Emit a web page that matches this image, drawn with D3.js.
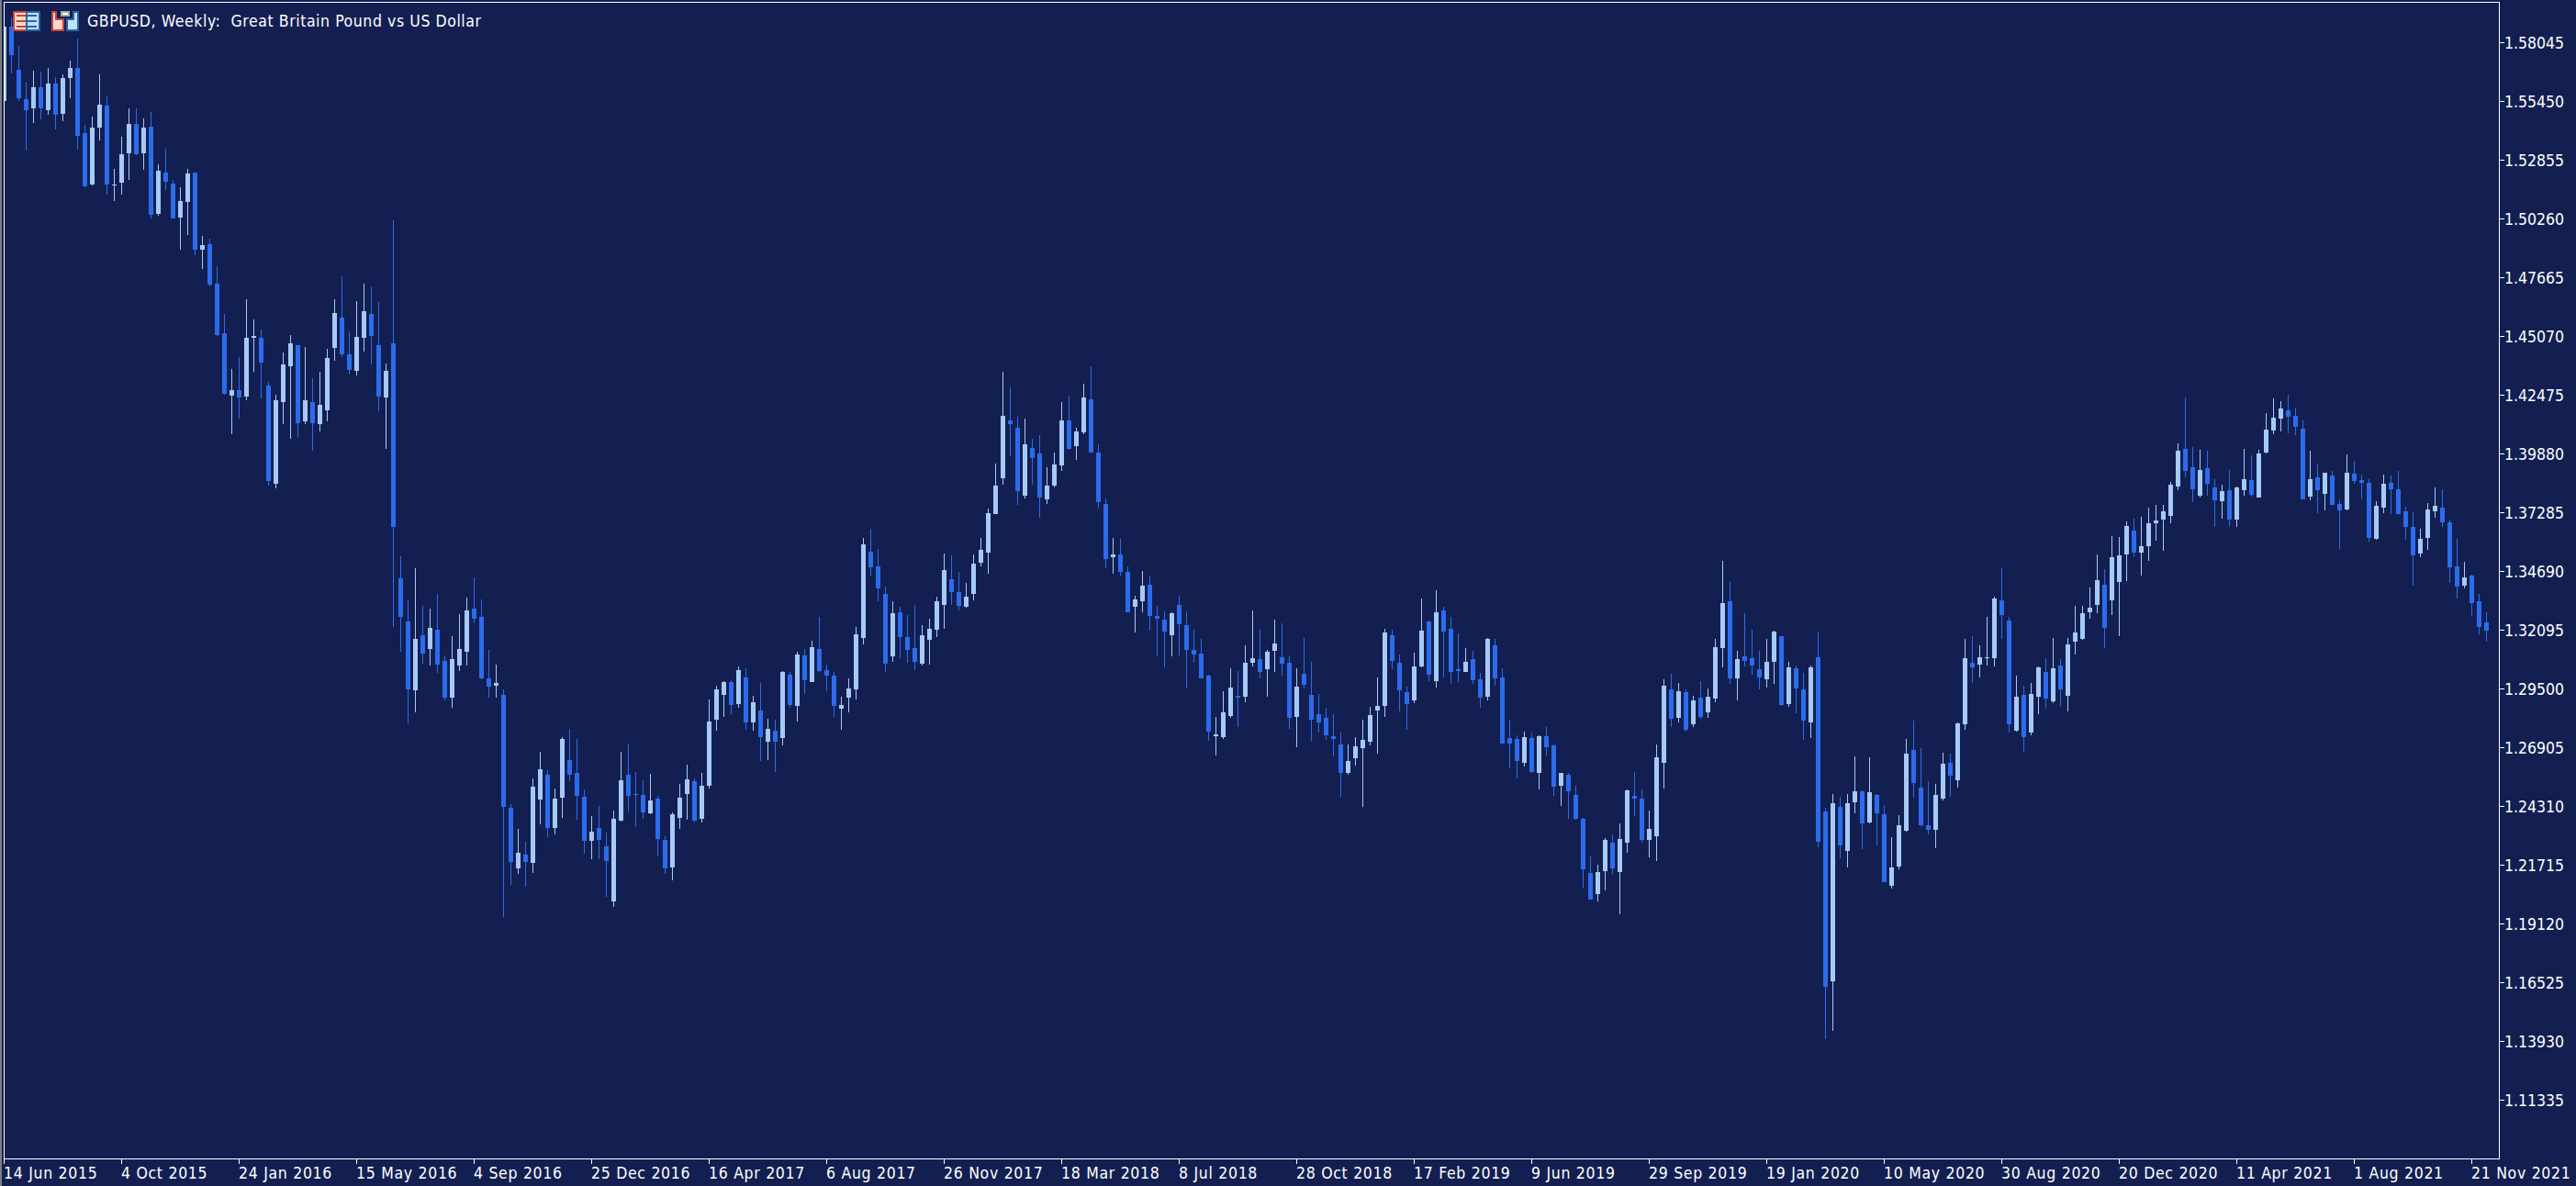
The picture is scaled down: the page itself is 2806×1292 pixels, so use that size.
<!DOCTYPE html>
<html>
<head>
<meta charset="utf-8">
<script src="https://cdnjs.cloudflare.com/ajax/libs/d3/7.8.5/d3.min.js"></script>
<style>
  html, body { margin: 0; padding: 0; background: #131f51; overflow: hidden; }
  svg { display: block; }
  text { font-family: 'DejaVu Sans Condensed', 'DejaVu Sans'; font-stretch: condensed; fill: #fff; }
</style>
</head>
<body>
<svg id="chart"></svg>
<script>
const title = 'GBPUSD, Weekly:  Great Britain Pound vs US Dollar';

const dateLabels = ['14 Jun 2015', '4 Oct 2015', '24 Jan 2016', '15 May 2016', '4 Sep 2016', '25 Dec 2016',
  '16 Apr 2017', '6 Aug 2017', '26 Nov 2017', '18 Mar 2018', '8 Jul 2018', '28 Oct 2018', '17 Feb 2019',
  '9 Jun 2019', '29 Sep 2019', '19 Jan 2020', '10 May 2020', '30 Aug 2020', '20 Dec 2020', '11 Apr 2021',
  '1 Aug 2021', '21 Nov 2021'];
const weeksPerLabel = 16;

const priceTicks = [1.11335, 1.13930, 1.16525, 1.19120, 1.21715, 1.24310, 1.26905, 1.29500, 1.32095, 1.34690,
  1.37285, 1.39880, 1.42475, 1.45070, 1.47665, 1.50260, 1.52855, 1.55450, 1.58045];

const highs = [
  1.5910,1.5914,1.5792,1.5630,1.5679,1.5675,1.5695,1.5654,1.5663,1.5727,
  1.5821,1.5440,1.5480,1.5663,1.5569,1.5245,1.5387,1.5513,1.5513,1.5472,
  1.5500,1.5269,1.5338,1.5200,1.5164,1.5245,1.5229,1.4949,1.4937,1.4819,
  1.4608,1.4365,1.4414,1.4673,1.4580,1.4539,1.4308,1.4251,1.4438,1.4515,
  1.4470,1.4462,1.4324,1.4349,1.4454,1.4673,1.4774,1.4531,1.4665,1.4742,
  1.4730,1.4661,1.4389,1.5018,1.3534,1.3343,1.3485,1.3315,1.3303,1.3371,
  1.3096,1.3185,1.3282,1.3355,1.3444,1.3347,1.3124,1.3059,1.2946,1.2443,
  1.2333,1.2273,1.2556,1.2674,1.2593,1.2512,1.2739,1.2775,1.2731,1.2504,
  1.2390,1.2435,1.2317,1.2414,1.2674,1.2706,1.2585,1.2548,1.2573,1.2479,
  1.2301,1.2406,1.2532,1.2617,1.2556,1.2577,1.2905,1.2966,1.2986,1.2990,
  1.3051,1.3043,1.2921,1.2978,1.2820,1.2816,1.3031,1.3027,1.3116,1.3128,
  1.3161,1.3270,1.3059,1.3023,1.2917,1.2998,1.3225,1.3619,1.3659,1.3570,
  1.3404,1.3339,1.3311,1.3278,1.3323,1.3230,1.3262,1.3359,1.3550,1.3538,
  1.3465,1.3420,1.3546,1.3615,1.3745,1.3947,1.4349,1.4280,1.4154,1.4146,
  1.4053,1.4073,1.3931,1.3996,1.4219,1.4247,1.4105,1.4300,1.4377,1.4032,
  1.3793,1.3619,1.3611,1.3493,1.3363,1.3473,1.3449,1.3315,1.3294,1.3290,
  1.3363,1.3294,1.3213,1.3173,1.3011,1.2828,1.2938,1.3043,1.3031,1.3144,
  1.3298,1.3217,1.3124,1.3258,1.3238,1.3092,1.3043,1.3177,1.3071,1.2929,
  1.2865,1.2840,1.2759,1.2706,1.2739,1.2816,1.2869,1.3002,1.3217,1.3213,
  1.3104,1.2962,1.3112,1.3351,1.3254,1.3384,1.3311,1.3270,1.3197,1.3132,
  1.3120,1.3019,1.3177,1.3173,1.3043,1.2816,1.2747,1.2763,1.2759,1.2747,
  1.2783,1.2706,1.2581,1.2581,1.2524,1.2382,1.2212,1.2175,1.2293,1.2309,
  1.2354,1.2508,1.2585,1.2504,1.2414,1.2706,1.2994,1.3015,1.2978,1.2946,
  1.2921,1.2986,1.2954,1.3169,1.3517,1.3424,1.3120,1.3286,1.3213,1.3120,
  1.3173,1.3209,1.3185,1.3071,1.3055,1.3019,1.3055,1.3201,1.2423,1.2487,
  1.2475,1.2487,1.2650,1.2500,1.2646,1.2487,1.2439,1.2297,1.2394,1.2731,
  1.2812,1.2690,1.2544,1.2532,1.2670,1.2666,1.2804,1.3173,1.3185,1.3144,
  1.3270,1.3359,1.3485,1.3270,1.3007,1.2966,1.2978,1.3051,1.3084,1.3177,
  1.3080,1.3177,1.3315,1.3315,1.3400,1.3542,1.3481,1.3627,1.3623,1.3688,
  1.3704,1.3712,1.3749,1.3761,1.3761,1.3866,1.4036,1.4239,1.4020,1.4008,
  1.4004,1.3878,1.3854,1.3919,1.3846,1.4012,1.3980,1.4008,1.4170,1.4235,
  1.4223,1.4251,1.4191,1.4134,1.4004,1.3943,1.3903,1.3911,1.3789,1.3984,
  1.3959,1.3895,1.3878,1.3781,1.3895,1.3891,1.3915,1.3753,1.3732,1.3659,
  1.3773,1.3838,1.3830,1.3700,1.3611,1.3513,1.3453,1.3371,1.3290];

const lows = [
  1.5525,1.5667,1.5545,1.5330,1.5448,1.5464,1.5488,1.5423,1.5456,1.5561,
  1.5334,1.5164,1.5172,1.5371,1.5135,1.5107,1.5135,1.5200,1.5306,1.5241,
  1.5026,1.5042,1.5152,1.5030,1.4892,1.4957,1.4864,1.4803,1.4730,1.4507,
  1.4251,1.4077,1.4146,1.4227,1.4349,1.4235,1.3850,1.3834,1.4118,1.4053,
  1.4057,1.4118,1.4004,1.4089,1.4130,1.4401,1.4414,1.4337,1.4333,1.4442,
  1.4385,1.4178,1.4012,1.3225,1.3116,1.2796,1.2848,1.3063,1.3055,1.3019,
  1.2901,1.2865,1.3031,1.3055,1.3238,1.2994,1.2913,1.2913,1.1944,1.2086,
  1.2131,1.2078,1.2139,1.2350,1.2297,1.2309,1.2382,1.2544,1.2374,1.2224,
  1.2196,1.2196,1.2033,1.1985,1.2366,1.2410,1.2341,1.2378,1.2398,1.2212,
  1.2131,1.2106,1.2333,1.2374,1.2362,1.2362,1.2512,1.2767,1.2828,1.2840,
  1.2865,1.2771,1.2767,1.2633,1.2637,1.2585,1.2702,1.2865,1.2808,1.2929,
  1.2982,1.3023,1.2938,1.2828,1.2771,1.2848,1.2905,1.3148,1.3449,1.3339,
  1.3023,1.3071,1.3084,1.3067,1.3035,1.3055,1.3059,1.3181,1.3217,1.3319,
  1.3298,1.3307,1.3343,1.3493,1.3457,1.3724,1.3854,1.3976,1.3761,1.3793,
  1.3854,1.3708,1.3765,1.3838,1.3911,1.4008,1.3963,1.4077,1.3996,1.3745,
  1.3485,1.3457,1.3449,1.3290,1.3201,1.3290,1.3209,1.3100,1.3047,1.3092,
  1.3100,1.2954,1.3067,1.3017,1.2719,1.2658,1.2727,1.2824,1.2783,1.2893,
  1.3051,1.2998,1.2917,1.3027,1.3007,1.2775,1.2694,1.2954,1.2719,1.2759,
  1.2723,1.2654,1.2475,1.2569,1.2613,1.2427,1.2702,1.2666,1.2828,1.3039,
  1.2852,1.2771,1.2889,1.3047,1.2986,1.2958,1.3002,1.2974,1.2982,1.3023,
  1.2974,1.2865,1.2901,1.2966,1.2710,1.2601,1.2556,1.2609,1.2577,1.2504,
  1.2658,1.2479,1.2435,1.2378,1.2374,1.2074,1.2021,1.2013,1.2062,1.2135,
  1.1956,1.2228,1.2390,1.2269,1.2204,1.2191,1.2512,1.2783,1.2804,1.2763,
  1.2783,1.2820,1.2824,1.2893,1.3047,1.2974,1.2901,1.3051,1.3011,1.2950,
  1.2958,1.2974,1.2877,1.2869,1.2844,1.2723,1.2735,1.2252,1.1405,1.1441,
  1.2200,1.2163,1.2402,1.2244,1.2358,1.2260,1.2098,1.2070,1.2155,1.2321,
  1.2471,1.2342,1.2309,1.2248,1.2459,1.2475,1.2516,1.2771,1.2978,1.3002,
  1.3055,1.3051,1.3173,1.2759,1.2763,1.2674,1.2747,1.2840,1.2861,1.2889,
  1.2877,1.2852,1.3104,1.3165,1.3262,1.3286,1.3132,1.3278,1.3185,1.3428,
  1.3530,1.3449,1.3517,1.3603,1.3562,1.3680,1.3826,1.3886,1.3777,1.3797,
  1.3805,1.3667,1.3704,1.3667,1.3667,1.3805,1.3801,1.3797,1.3988,1.4077,
  1.4089,1.4081,1.4073,1.3789,1.3785,1.3728,1.3740,1.3757,1.3570,1.3740,
  1.3858,1.3789,1.3599,1.3607,1.3728,1.3724,1.3724,1.3607,1.3408,1.3530,
  1.3566,1.3708,1.3667,1.3420,1.3351,1.3392,1.3274,1.3193,1.3157];

const opens = [
  1.5549,1.5877,1.5683,1.5557,1.5513,1.5606,1.5508,1.5626,1.5492,1.5650,
  1.5691,1.5407,1.5180,1.5431,1.5525,1.5176,1.5188,1.5314,1.5444,1.5314,
  1.5435,1.5050,1.5229,1.5184,1.5034,1.5103,1.5229,1.4892,1.4916,1.4742,
  1.4523,1.4247,1.4268,1.4243,1.4499,1.4499,1.4292,1.3858,1.4219,1.4377,
  1.4470,1.4130,1.4219,1.4118,1.4182,1.4458,1.4592,1.4426,1.4353,1.4499,
  1.4608,1.4470,1.4239,1.4478,1.3440,1.3250,1.2942,1.3189,1.3128,1.3213,
  1.3075,1.2913,1.3055,1.3116,1.3303,1.3270,1.2998,1.2966,1.2925,1.2423,
  1.2159,1.2220,1.2183,1.2463,1.2569,1.2337,1.2471,1.2637,1.2581,1.2475,
  1.2277,1.2337,1.2256,1.2013,1.2370,1.2569,1.2487,1.2483,1.2402,1.2467,
  1.2285,1.2163,1.2382,1.2487,1.2544,1.2378,1.2524,1.2816,1.2925,1.2982,
  1.2885,1.3002,1.2800,1.2856,1.2715,1.2767,1.2735,1.3011,1.2873,1.3100,
  1.2982,1.3128,1.3035,1.3007,1.2861,1.2913,1.2946,1.3177,1.3558,1.3493,
  1.3371,1.3092,1.3290,1.3181,1.3132,1.3063,1.3165,1.3213,1.3319,1.3436,
  1.3376,1.3311,1.3371,1.3509,1.3554,1.3724,1.3882,1.4134,1.4105,1.3805,
  1.4016,1.3988,1.3789,1.3850,1.3939,1.4134,1.4024,1.4085,1.4231,1.3996,
  1.3765,1.3530,1.3542,1.3469,1.3311,1.3339,1.3412,1.3274,1.3258,1.3189,
  1.3319,1.3230,1.3124,1.3108,1.3007,1.2743,1.2739,1.2832,1.2921,1.2917,
  1.3067,1.3080,1.3039,1.3120,1.3088,1.3067,1.2828,1.3015,1.2925,1.2840,
  1.2824,1.2743,1.2706,1.2581,1.2642,1.2690,1.2715,1.2853,1.2873,1.3189,
  1.3067,1.2934,1.2901,1.3051,1.3246,1.2986,1.3298,1.3217,1.3039,1.3027,
  1.3080,1.2994,1.2917,1.3144,1.3002,1.2735,1.2727,1.2625,1.2735,1.2581,
  1.2743,1.2702,1.2524,1.2569,1.2483,1.2378,1.2139,1.2045,1.2147,1.2269,
  1.2143,1.2269,1.2479,1.2467,1.2285,1.2301,1.2625,1.2946,1.2824,1.2934,
  1.2792,1.2913,1.2848,1.2909,1.3132,1.3339,1.2998,1.3092,1.3084,1.3039,
  1.2994,1.3071,1.3185,1.2885,1.3043,1.2946,1.2804,1.3088,1.2410,1.1660,
  1.2427,1.2236,1.2451,1.2496,1.2362,1.2483,1.2398,1.2082,1.2167,1.2325,
  1.2682,1.2516,1.2346,1.2329,1.2467,1.2625,1.2548,1.2792,1.3067,1.3059,
  1.3084,1.3084,1.3343,1.3254,1.2767,1.2925,1.2759,1.2917,1.3027,1.2897,
  1.3055,1.2921,1.3157,1.3169,1.3290,1.3323,1.3412,1.3343,1.3424,1.3542,
  1.3651,1.3554,1.3582,1.3680,1.3700,1.3716,1.3846,1.4012,1.3931,1.3805,
  1.3927,1.3842,1.3781,1.3826,1.3700,1.3826,1.3874,1.3797,1.3996,1.4093,
  1.4146,1.4182,1.4158,1.4101,1.3801,1.3886,1.3813,1.3891,1.3769,1.3744,
  1.3899,1.3874,1.3862,1.3611,1.3749,1.3862,1.3830,1.3736,1.3667,1.3550,
  1.3615,1.3736,1.3749,1.3684,1.3493,1.3408,1.3449,1.3339,1.3242];

const closes = [
  1.5877,1.5748,1.5561,1.5508,1.5606,1.5513,1.5626,1.5488,1.5650,1.5691,
  1.5391,1.5168,1.5431,1.5529,1.5180,1.5180,1.5310,1.5444,1.5310,1.5431,
  1.5046,1.5237,1.5192,1.5030,1.5107,1.5225,1.4892,1.4912,1.4738,1.4515,
  1.4255,1.4268,1.4239,1.4499,1.4511,1.4393,1.3870,1.4227,1.4385,1.4478,
  1.4122,1.4227,1.4122,1.4203,1.4410,1.4612,1.4426,1.4357,1.4503,1.4620,
  1.4511,1.4243,1.4353,1.3667,1.3270,1.2950,1.3173,1.3108,1.3221,1.3059,
  1.2913,1.3080,1.3128,1.3298,1.3262,1.2998,1.2962,1.2978,1.2427,1.2187,
  1.2228,1.2187,1.2520,1.2597,1.2337,1.2467,1.2731,1.2569,1.2479,1.2277,
  1.2321,1.2281,1.2191,1.2378,1.2548,1.2479,1.2483,1.2406,1.2459,1.2289,
  1.2159,1.2398,1.2471,1.2552,1.2370,1.2524,1.2808,1.2946,1.2982,1.2881,
  1.3035,1.2804,1.2893,1.2739,1.2775,1.2715,1.3027,1.2881,1.3104,1.2990,
  1.3136,1.3031,1.3007,1.2873,1.2881,1.2954,1.3193,1.3590,1.3489,1.3392,
  1.3063,1.3286,1.3181,1.3124,1.3071,1.3189,1.3217,1.3339,1.3477,1.3376,
  1.3315,1.3359,1.3505,1.3566,1.3728,1.3850,1.4158,1.4118,1.3822,1.4032,
  1.3968,1.3797,1.3850,1.3943,1.4134,1.4012,1.4089,1.4239,1.3996,1.3777,
  1.3522,1.3542,1.3465,1.3290,1.3347,1.3408,1.3274,1.3262,1.3205,1.3286,
  1.3234,1.3124,1.3104,1.2998,1.2763,1.2751,1.2848,1.2958,1.2913,1.3067,
  1.3084,1.3027,1.3116,1.3152,1.3063,1.2824,1.2962,1.2970,1.2816,1.2804,
  1.2747,1.2731,1.2581,1.2630,1.2698,1.2723,1.2836,1.2873,1.3201,1.3075,
  1.2942,1.2885,1.3051,1.3209,1.3011,1.3290,1.3205,1.3027,1.3031,1.3071,
  1.2990,1.2913,1.3173,1.2998,1.2710,1.2710,1.2630,1.2739,1.2585,1.2743,
  1.2694,1.2520,1.2577,1.2496,1.2378,1.2155,1.2021,1.2143,1.2285,1.2159,
  1.2289,1.2500,1.2467,1.2285,1.2333,1.2646,1.2966,1.2820,1.2938,1.2771,
  1.2901,1.2828,1.2917,1.3136,1.3331,1.2998,1.3080,1.3075,1.3055,1.3002,
  1.3071,1.3205,1.2881,1.3047,1.2954,1.2812,1.3047,1.2273,1.1636,1.2447,
  1.2260,1.2447,1.2496,1.2358,1.2492,1.2402,1.2098,1.2163,1.2346,1.2666,
  1.2536,1.2346,1.2329,1.2483,1.2621,1.2565,1.2796,1.3084,1.3047,1.3088,
  1.3088,1.3351,1.3278,1.2792,1.2917,1.2739,1.2929,1.3047,1.2909,1.3043,
  1.2946,1.3148,1.3201,1.3286,1.3307,1.3432,1.3221,1.3530,1.3538,1.3668,
  1.3554,1.3582,1.3680,1.3696,1.3736,1.3854,1.4004,1.3915,1.3830,1.3919,
  1.3858,1.3785,1.3822,1.3700,1.3838,1.3878,1.3809,1.3988,1.4097,1.4150,
  1.4187,1.4154,1.4109,1.3789,1.3878,1.3826,1.3903,1.3761,1.3740,1.3903,
  1.3870,1.3862,1.3619,1.3757,1.3858,1.3830,1.3724,1.3667,1.3538,1.3611,
  1.3744,1.3757,1.3684,1.3489,1.3404,1.3444,1.3331,1.3225,1.3209];

const width = 2806;
const height = 1292;
const plot = {left: 4, top: 2, right: 2722, bottom: 1262};
const upColor = '#a6caf8';
const downColor = '#2b6cec';

const candles = opens.map((o, i) => ({i, o, c: closes[i], h: highs[i], l: lows[i]}));

const svg = d3.select('#chart').attr('width', width).attr('height', height);

const xScale = d3.scaleLinear().domain([0, candles.length - 1]).range([4.5, 4.5 + 8 * (candles.length - 1)]);
const yScale = d3.scaleLinear()
    .domain([priceTicks[0], priceTicks[priceTicks.length - 1]])
    .range([1198.5, 46.5]);

// window edge on the far left
svg.append('rect').attr('x', 0).attr('y', 0).attr('width', 2).attr('height', height).attr('fill', '#7f7f7f');

svg.append('clipPath').attr('id', 'plot-clip')
  .append('rect')
    .attr('x', plot.left + 1)
    .attr('y', plot.top + 1)
    .attr('width', plot.right - plot.left - 1)
    .attr('height', plot.bottom - plot.top - 1);

const candleGroup = svg.append('g')
    .attr('clip-path', 'url(#plot-clip)')
    .attr('shape-rendering', 'crispEdges');

const color = d => d.c >= d.o ? upColor : downColor;

candleGroup.selectAll('rect.wick')
  .data(candles)
  .enter()
  .append('rect')
    .attr('class', 'wick')
    .attr('x', d => xScale(d.i) - 0.5)
    .attr('width', 1)
    .attr('y', d => Math.round(yScale(d.h)))
    .attr('height', d => Math.max(1, Math.round(yScale(d.l)) - Math.round(yScale(d.h))))
    .attr('fill', color);

candleGroup.selectAll('rect.body')
  .data(candles)
  .enter()
  .append('rect')
    .attr('class', 'body')
    .attr('x', d => xScale(d.i) - 2.5)
    .attr('width', 5)
    .attr('y', d => Math.round(yScale(Math.max(d.o, d.c))))
    .attr('height', d => Math.max(1, Math.round(yScale(Math.min(d.o, d.c))) - Math.round(yScale(Math.max(d.o, d.c)))))
    .attr('fill', color);

// chart frame
svg.append('rect')
    .attr('x', plot.left + 0.5)
    .attr('y', plot.top + 0.5)
    .attr('width', plot.right - plot.left)
    .attr('height', plot.bottom - plot.top)
    .attr('fill', 'none')
    .attr('stroke', '#fff')
    .attr('shape-rendering', 'crispEdges');

const yAxis = d3.axisRight(yScale)
    .tickValues(priceTicks)
    .tickFormat(d3.format('.5f'))
    .tickSize(5)
    .tickPadding(0)
    .offset(0);

const yAxisGroup = svg.append('g')
    .attr('transform', `translate(${plot.right + 1}, 0)`)
    .call(yAxis);
yAxisGroup.select('.domain').remove();
yAxisGroup.selectAll('line').attr('stroke', '#fff').attr('shape-rendering', 'crispEdges');
yAxisGroup.selectAll('text')
    .attr('font-size', 17.5)
    .attr('fill', '#fff')
    .attr('font-family', null)
    .attr('y', 1);

const xAxis = d3.axisBottom(xScale)
    .tickValues(dateLabels.map((d, i) => i * weeksPerLabel))
    .tickFormat((d, i) => dateLabels[i])
    .tickSize(5)
    .tickPadding(4)
    .offset(0);

const xAxisGroup = svg.append('g')
    .attr('transform', `translate(0, ${plot.bottom + 1})`)
    .call(xAxis);
xAxisGroup.select('.domain').remove();
xAxisGroup.selectAll('line').attr('stroke', '#fff').attr('shape-rendering', 'crispEdges');
xAxisGroup.selectAll('text')
    .attr('font-size', 17.5)
    .attr('fill', '#fff')
    .attr('font-family', null)
    .attr('letter-spacing', 0.7)
    .style('text-anchor', 'start')
    .attr('x', -0.5);

svg.append('text')
    .attr('x', 95)
    .attr('y', 29)
    .attr('font-size', 17.5)
    .attr('letter-spacing', 0.57)
    .style('white-space', 'pre')
    .text(title);

// the two small toolbar icons next to the title
const icons = svg.append('g').attr('shape-rendering', 'crispEdges');
icons.append('rect').attr('x', 15).attr('y', 13).attr('width', 14).attr('height', 20)
    .attr('fill', '#fdd9cc').attr('stroke', '#c8453a').attr('stroke-width', 2);
icons.append('rect').attr('x', 29).attr('y', 13).attr('width', 14).attr('height', 20)
    .attr('fill', '#bfe0fb').attr('stroke', '#2a62a8').attr('stroke-width', 2);
[16, 22, 28].forEach(y => {
  icons.append('rect').attr('x', 18).attr('y', y).attr('width', 10).attr('height', 2).attr('fill', '#c8453a');
  icons.append('rect').attr('x', 30).attr('y', y).attr('width', 10).attr('height', 2).attr('fill', '#2a62a8');
});
icons.append('path').attr('d', 'M57 13H61V21H69V33H57Z')
    .attr('fill', '#fdd9cc').attr('stroke', '#c8453a').attr('stroke-width', 2);
icons.append('path').attr('d', 'M85 13H80V21H73V33H85Z')
    .attr('fill', '#bfe0fb').attr('stroke', '#2a62a8').attr('stroke-width', 2);
icons.append('rect').attr('x', 66).attr('y', 12).attr('width', 10).attr('height', 6).attr('fill', '#a8a8a8');
icons.append('rect').attr('x', 68).attr('y', 14).attr('width', 6).attr('height', 2).attr('fill', '#fff');
</script>
</body>
</html>
